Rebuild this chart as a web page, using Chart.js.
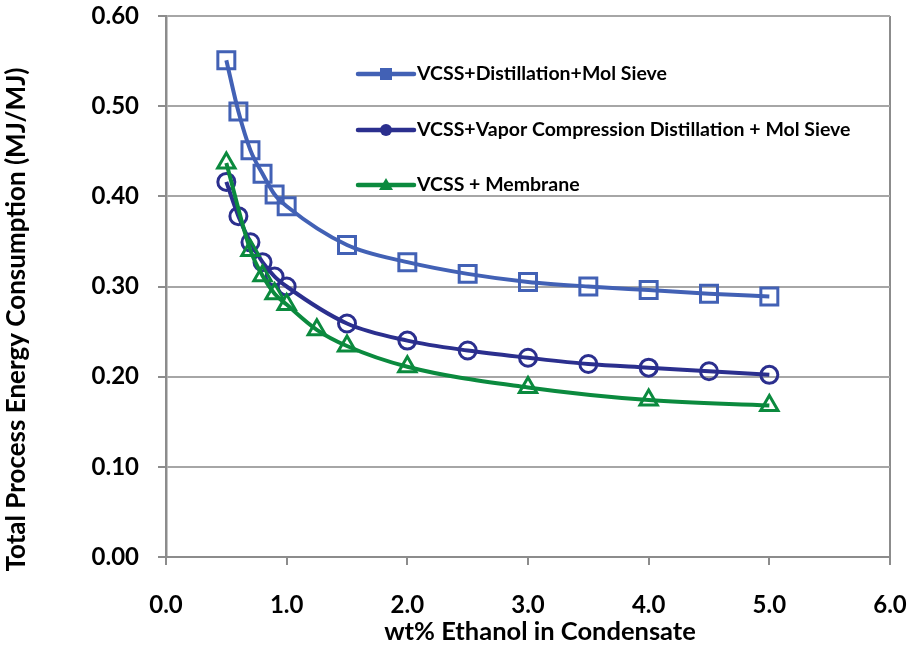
<!DOCTYPE html>
<html>
<head>
<meta charset="utf-8">
<script src="https://cdn.jsdelivr.net/npm/chart.js@4.4.1/dist/chart.umd.min.js"></script>
<style>
  html, body { margin: 0; padding: 0; background: #ffffff; }
  #wrap { width: 915px; height: 647px; }
</style>
</head>
<body>
<div id="wrap"><canvas id="c" width="915" height="647"></canvas></div>
<script>
// ---- data ----
const seriesNames = [
  "VCSS+Distillation+Mol Sieve",
  "VCSS+Vapor Compression Distillation + Mol Sieve",
  "VCSS + Membrane"
];
const xDistillation = [0.5, 0.6, 0.7, 0.8, 0.9, 1.0, 1.5, 2.0, 2.5, 3.0, 3.5, 4.0, 4.5, 5.0];
const yDistillation = [0.551, 0.494, 0.451, 0.425, 0.402, 0.389, 0.346, 0.327, 0.314, 0.305, 0.300, 0.296, 0.292, 0.289];
const xVaporComp = [0.5, 0.6, 0.7, 0.8, 0.9, 1.0, 1.5, 2.0, 2.5, 3.0, 3.5, 4.0, 4.5, 5.0];
const yVaporComp = [0.416, 0.378, 0.349, 0.327, 0.311, 0.300, 0.259, 0.240, 0.229, 0.221, 0.214, 0.210, 0.206, 0.202];
const xMembrane = [0.5, 0.7, 0.8, 0.9, 1.0, 1.25, 1.5, 2.0, 3.0, 4.0, 5.0];
const yMembrane = [0.437, 0.340, 0.312, 0.292, 0.280, 0.252, 0.234, 0.211, 0.188, 0.174, 0.168];
const xTickLabels = ["0.0", "1.0", "2.0", "3.0", "4.0", "5.0", "6.0"];
const yTickLabels = ["0.00", "0.10", "0.20", "0.30", "0.40", "0.50", "0.60"];
const xAxisTitle = "wt% Ethanol in Condensate";
const yAxisTitle = "Total Process Energy Consumption (MJ/MJ)";

// ---- styles ----
const colors = ["#4261B5", "#2B2F8E", "#0B8A3E"];
const pointStyles = ["rect", "circle", "triangle"];
const pointRadii = [12, 8.5, 10];
const FONT = "Lato, 'Open Sans', sans-serif";
const gridGray = "#A6A6A6";
const axisGray = "#8C8C8C";

function toPoints(xs, ys) { return xs.map((x, i) => ({ x: x, y: ys[i] })); }

const pointSets = [
  toPoints(xDistillation, yDistillation),
  toPoints(xVaporComp, yVaporComp),
  toPoints(xMembrane, yMembrane)
];

const datasets = pointSets.map((pts, i) => ({
  label: seriesNames[i],
  data: pts,
  borderColor: colors[i],
  backgroundColor: "rgba(0,0,0,0)",
  borderWidth: 4,
  pointStyle: pointStyles[i],
  pointRadius: pointRadii[i],
  pointHoverRadius: pointRadii[i],
  pointBorderWidth: 3,
  pointBorderColor: colors[i],
  pointBackgroundColor: "rgba(0,0,0,0)",
  cubicInterpolationMode: "monotone",
  fill: false,
  order: 2 - i,
  clip: false
}));

// custom legend drawn inside the plot area
const insideLegend = {
  id: "insideLegend",
  afterDatasetsDraw(chart) {
    const ctx = chart.ctx;
    const area = chart.chartArea;
    const lineX0 = area.left + 192;
    const lineX1 = area.left + 248;
    const textX = area.left + 251;
    const rows = [area.top + 58, area.top + 114, area.top + 169];
    ctx.save();
    seriesNames.forEach((name, i) => {
      const y = rows[i];
      ctx.strokeStyle = colors[i];
      ctx.lineWidth = 4.5;
      ctx.lineCap = "round";
      ctx.beginPath();
      ctx.moveTo(lineX0, y);
      ctx.lineTo(lineX1, y);
      ctx.stroke();
      ctx.fillStyle = colors[i];
      const cx = (lineX0 + lineX1) / 2;
      ctx.beginPath();
      if (pointStyles[i] === "rect") {
        ctx.rect(cx - 6, y - 6, 12, 12);
      } else if (pointStyles[i] === "circle") {
        ctx.arc(cx, y, 6, 0, Math.PI * 2);
      } else {
        ctx.moveTo(cx, y - 7);
        ctx.lineTo(cx + 7, y + 5);
        ctx.lineTo(cx - 7, y + 5);
        ctx.closePath();
      }
      ctx.fill();
      ctx.fillStyle = "#000000";
      ctx.font = "bold 19.5px " + FONT;
      ctx.textAlign = "left";
      ctx.textBaseline = "middle";
      ctx.fillText(name, textX, y);
    });
    ctx.restore();
  }
};

// axis titles placed like the original (slightly off-centre)
const axisTitles = {
  id: "axisTitles",
  afterDraw(chart) {
    const ctx = chart.ctx;
    const area = chart.chartArea;
    ctx.save();
    ctx.fillStyle = "#000000";
    ctx.textAlign = "center";
    ctx.textBaseline = "middle";
    ctx.font = "bold 25.5px " + FONT;
    ctx.fillText(xAxisTitle, (area.left + area.right) / 2 + 12, area.bottom + 75);
    ctx.translate(17, (area.top + area.bottom) / 2 + 33);
    ctx.rotate(-Math.PI / 2);
    ctx.font = "bold 26px " + FONT;
    ctx.fillText(yAxisTitle, 0, 0);
    ctx.restore();
  }
};

new Chart(document.getElementById("c"), {
  type: "line",
  data: { datasets: datasets },
  options: {
    responsive: false,
    animation: false,
    devicePixelRatio: 1,
    layout: { padding: { left: 0, right: 0, top: 0, bottom: 0 } },
    plugins: {
      legend: { display: false },
      tooltip: { enabled: false }
    },
    scales: {
      x: {
        type: "linear",
        min: 0,
        max: 6,
        afterBuildTicks(scale) {
          scale.ticks = xTickLabels.map(t => ({ value: parseFloat(t) }));
        },
        afterFit(scale) {
          scale.height = 90;
          scale.paddingLeft = 0;
          scale.paddingRight = 25;
        },
        ticks: {
          callback: (v, idx) => xTickLabels[idx],
          color: "#000000",
          font: { family: FONT, size: 24, weight: "bold" },
          padding: 26,
          maxRotation: 0,
          autoSkip: false
        },
        grid: {
          color: ctx => (ctx.tick && ctx.tick.value === 6) ? axisGray : "rgba(0,0,0,0)",
          lineWidth: 2,
          tickColor: axisGray,
          tickLength: 8,
          drawTicks: true
        },
        border: { display: true, color: axisGray, width: 2 },
        title: { display: false }
      },
      y: {
        type: "linear",
        min: 0,
        max: 0.6,
        afterBuildTicks(scale) {
          scale.ticks = yTickLabels.map(t => ({ value: parseFloat(t) }));
        },
        afterFit(scale) {
          scale.width = 166;
          scale.paddingTop = 16;
          scale.paddingBottom = 0;
        },
        ticks: {
          callback: (v, idx) => yTickLabels[idx],
          color: "#000000",
          font: { family: FONT, size: 24, weight: "bold" },
          padding: 19,
          autoSkip: false
        },
        grid: {
          color: gridGray,
          lineWidth: 2,
          tickColor: axisGray,
          tickLength: 8
        },
        border: { display: true, color: axisGray, width: 2.5 },
        title: { display: false }
      }
    }
  },
  plugins: [insideLegend, axisTitles]
});
</script>
</body>
</html>
